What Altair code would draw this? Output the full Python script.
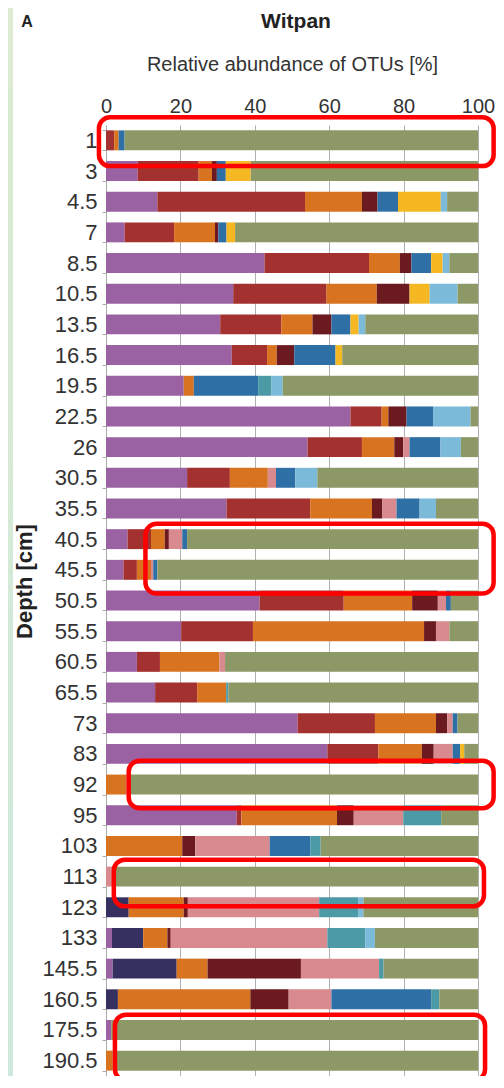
import altair as alt
import pandas as pd

depths = ["1", "3", "4.5", "7", "8.5", "10.5", "13.5", "16.5", "19.5", "22.5", "26",
          "30.5", "35.5", "40.5", "45.5", "50.5", "55.5", "60.5", "65.5", "73", "83",
          "92", "95", "103", "113", "123", "133", "145.5", "160.5", "175.5", "190.5"]

groups = ["purple", "navy", "red", "orange", "maroon", "pink", "blue", "yellow",
          "teal", "lightblue", "olive"]
colors = ["#9a62a2", "#35305f", "#a3312f", "#d8731f", "#6b1a1f", "#d98a8f",
          "#2e6fa6", "#f6b822", "#4c9aa5", "#7bbad9", "#8c9966"]

purple    = [0, 8.5, 13.8, 5.0, 42.6, 34.2, 30.7, 33.8, 20.9, 65.7, 54.2, 21.8, 32.4, 5.8, 4.7, 41.3, 20.2, 8.3, 13.2, 51.5, 59.5, 0, 35.1, 0, 0, 0, 1.6, 1.8, 0, 1.4, 0]
navy      = [0, 0, 0, 0, 0, 0, 0, 0, 0, 0, 0, 0, 0, 0, 0, 0, 0, 0, 0, 0, 0, 0, 0, 0, 0, 6.1, 8.4, 17.2, 3.2, 0, 0]
red       = [2.2, 16.4, 39.7, 13.3, 28.1, 25.1, 16.4, 9.5, 0, 8.4, 14.6, 11.5, 22.5, 6.3, 3.6, 22.6, 19.3, 6.2, 11.3, 20.8, 13.7, 0, 1.3, 0, 0, 0, 0, 0, 0, 0, 0]
orange    = [1.2, 3.6, 15.3, 11.0, 8.3, 13.5, 8.4, 2.6, 2.7, 1.8, 8.7, 10.2, 16.6, 3.7, 3.8, 18.4, 46.0, 16.0, 7.8, 16.4, 11.7, 5.4, 25.7, 20.5, 0, 14.8, 6.5, 8.3, 35.6, 0, 1.8]
maroon    = [0, 1.3, 4.2, 0.9, 3.1, 8.8, 5.1, 4.7, 0, 4.9, 2.4, 0, 2.8, 1.1, 0, 6.9, 3.2, 0, 0, 3.0, 3.2, 0, 4.5, 3.5, 0, 1.1, 0.9, 25.1, 10.3, 0, 0]
pink      = [0, 0, 0, 0, 0, 0, 0, 0, 0, 0, 1.7, 2.2, 3.8, 3.6, 0.6, 2.2, 3.6, 1.5, 0, 1.5, 5.1, 1.0, 13.3, 20.0, 1.6, 35.3, 42.1, 21.0, 11.5, 0, 0]
blue      = [1.6, 2.4, 5.5, 2.2, 5.3, 0, 5.1, 11.1, 17.3, 7.1, 8.3, 5.2, 6.2, 1.3, 1.1, 1.3, 0, 0, 0, 1.3, 2.0, 0, 0, 10.9, 0, 0, 0, 0, 26.8, 0, 0]
yellow    = [0, 6.7, 11.5, 2.3, 3.1, 5.4, 2.2, 1.8, 0, 0, 0, 0, 0, 0, 0, 0, 0, 0, 0, 0, 1.1, 0, 0, 0, 0, 0, 0, 0, 0, 0, 0]
teal      = [0, 0, 0, 0, 0, 0, 0, 0, 3.6, 0, 0, 0, 0, 0, 0, 0, 0, 0, 0.6, 0, 0, 0, 10.2, 2.8, 0, 10.6, 10.2, 1.2, 2.2, 0, 0]
lightblue = [0, 0, 1.7, 0, 1.8, 7.5, 1.8, 0, 3.0, 10.1, 5.5, 5.9, 4.4, 0, 0, 0, 0, 0, 0, 0, 0, 0, 0, 0, 0, 1.3, 2.6, 0, 0, 0, 0]
olive     = [95.0, 61.1, 8.3, 65.3, 7.7, 5.5, 30.3, 36.5, 52.5, 2.0, 4.6, 43.2, 11.3, 78.2, 86.2, 7.3, 7.7, 68.0, 67.1, 5.5, 3.7, 93.6, 9.9, 42.3, 98.4, 30.8, 27.7, 25.4, 10.4, 98.6, 98.2]

series = [purple, navy, red, orange, maroon, pink, blue, yellow, teal, lightblue, olive]

# highlighted rows: x range in %, y range in row units (0 = top of first row)
box_x0 = [-1.9, 10.6, 6.1, 2.1, 2.4]
box_x1 = [104.2, 104.2, 104.2, 101.6, 101.9]
box_y0 = [-0.25, 13.0, 20.72, 23.95, 29.0]
box_y1 = [1.34, 15.27, 22.27, 25.47, 31.14]

rows = []
for gi, (g, vals) in enumerate(zip(groups, series)):
    for d, v in zip(depths, vals):
        if v > 0:
            rows.append({"depth": d, "group": g, "value": v, "order": gi})
df = pd.DataFrame(rows)

boxes = pd.DataFrame({"x0": box_x0, "x1": box_x1, "y0": box_y0, "y1": box_y1})

FONT = "Liberation Sans"

bars = alt.Chart(df).mark_bar().encode(
    x=alt.X("value:Q", stack="zero", scale=alt.Scale(domain=[0, 100], nice=False),
            axis=alt.Axis(orient="top", values=[0, 20, 40, 60, 80, 100],
                          title="Relative abundance of OTUs [%]",
                          titleFont=FONT, titleFontSize=20, titleFontWeight="normal",
                          titleColor="#333", titlePadding=22,
                          labelFont=FONT, labelFontSize=20, labelColor="#333",
                          labelFlush=False, labelOverlap=False,
                          ticks=False, labelPadding=9, domain=False,
                          grid=True, gridColor="#b0b0b0", gridWidth=1)),
    y=alt.Y("depth:N", sort=depths,
            scale=alt.Scale(paddingInner=0.35, paddingOuter=0.175),
            axis=alt.Axis(title="Depth [cm]", titleFont=FONT, titleFontSize=22,
                          titleFontWeight="bold", titleColor="#222", titleAngle=270,
                          titleX=-70, titleY=456, titleAlign="center",
                          titleBaseline="bottom",
                          labelFont=FONT, labelFontSize=22, labelColor="#333",
                          tickBand="extent", tickSize=4, tickColor="#aaa",
                          labelPadding=5, domainColor="#aaa", grid=False)),
    color=alt.Color("group:N", scale=alt.Scale(domain=groups, range=colors), legend=None),
    order=alt.Order("order:Q"),
)

frames = alt.Chart(boxes).mark_rect(filled=False, stroke="#ff0000", strokeWidth=4.5,
                                     cornerRadius=11).encode(
    x=alt.X("x0:Q", scale=alt.Scale(domain=[0, 100], nice=False, zero=False), axis=None),
    x2="x1:Q",
    y=alt.Y("y0:Q", scale=alt.Scale(domain=[0, 31], reverse=True, nice=False, zero=False),
            axis=None),
    y2="y1:Q",
)

strip = alt.Chart(pd.DataFrame({"a": [0]})).mark_rect(
    color=alt.Gradient(gradient="linear",
                       stops=[alt.GradientStop(color="#dcebd1", offset=0),
                              alt.GradientStop(color="#cde8dc", offset=1)],
                       x1=0, x2=0, y1=0, y2=1)
).encode(x=alt.value(-98), x2=alt.value(-93), y=alt.value(-117), y2=alt.value(960))

label_a = alt.Chart(pd.DataFrame({"t": ["A"]})).mark_text(
    font=FONT, fontSize=16, fontWeight="bold", color="#222", align="center",
    baseline="middle").encode(x=alt.value(-79), y=alt.value(-103), text="t:N")

label_title = alt.Chart(pd.DataFrame({"t": ["Witpan"]})).mark_text(
    font=FONT, fontSize=21, fontWeight="bold", color="#222", align="center",
    baseline="middle").encode(x=alt.value(190), y=alt.value(-103), text="t:N")

chart = alt.layer(strip, bars, frames, label_a, label_title).resolve_scale(
    x="independent", y="independent"
).properties(
    width=372, height=951,
    autosize=alt.AutoSizeParams(type="none"),
    padding={"left": 98, "top": 117, "right": 18, "bottom": 0},
).configure_view(stroke=None)

chart.save("out.html", embed_options={"renderer": "svg", "actions": False})
